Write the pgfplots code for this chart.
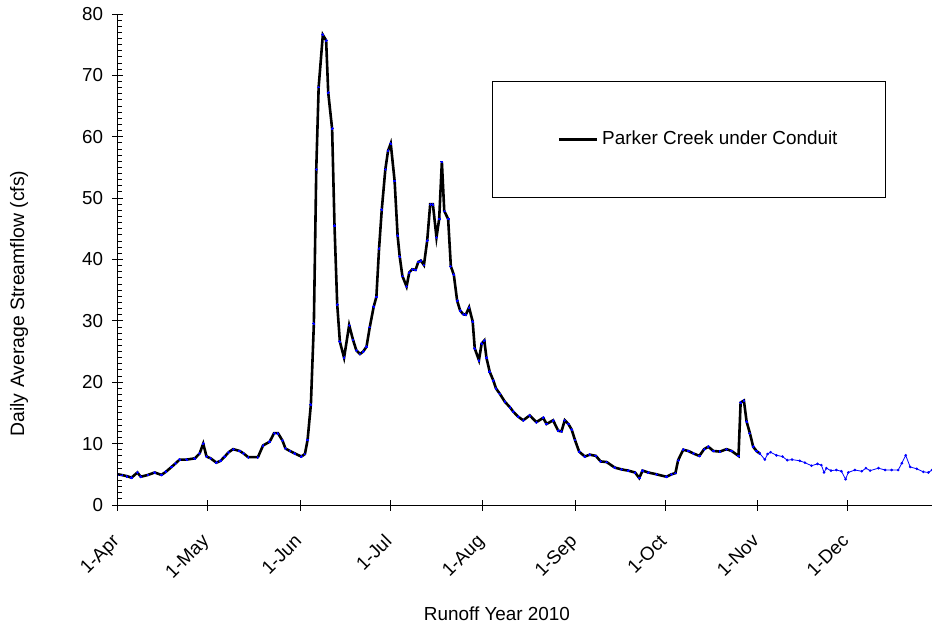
\documentclass[border=0pt]{standalone}
\usepackage{pgfplots}
\pgfplotsset{compat=1.18}
\usepackage{fontspec}
\setmainfont{Liberation Sans}
\begin{document}
\fontsize{18.8}{22.6}\selectfont
\begin{tikzpicture}
\begin{axis}[
  scale only axis, width=814pt, height=491pt,
  xmin=0, xmax=272.2, ymin=0, ymax=80,
  axis line style={draw=none},
  after end axis/.code={
    \draw[black, line width=1pt] (rel axis cs:0,1) -- (rel axis cs:0,0) -- (rel axis cs:1,0);
    \foreach \v in {1,...,79}{\draw[black, line width=1pt] (axis cs:0,\v) -- ++(4.5pt,0pt);}
  },
  tickpos=left,
  xtick={0,30,61,91,122,153,183,214,244},
  xticklabels={1-Apr,1-May,1-Jun,1-Jul,1-Aug,1-Sep,1-Oct,1-Nov,1-Dec},
  xticklabel style={xshift=-7pt, yshift=-21pt, rotate=45, anchor=north east, inner sep=1pt},
  ytick={0,10,...,80},
  yticklabel style={xshift=-3pt},
  tick align=center, major tick length=11pt,
  tick style={black, line width=1pt},
  /pgf/number format/assume math mode=true,
  ticklabel style={font=\fontsize{18.8}{22.6}\selectfont},
  label style={font=\fontsize{18.9}{22.6}\selectfont},
  xlabel={Runoff Year 2010},
  xlabel style={at={(axis description cs:0.4656,-0.222)}, anchor=center},
  ylabel={Daily Average Streamflow (cfs)},
  ylabel style={at={(axis description cs:-0.1216,0.4104)}, anchor=center, rotate=0, font=\fontsize{19.4}{23}\selectfont},
  legend style={draw=black, line width=0.8pt, at={(rel axis cs:0.7015,0.7444)}, anchor=center,
    inner xsep=48pt, inner ysep=50pt, nodes={inner sep=0pt}, column sep=4pt,
    font=\fontsize{18.9}{22.6}\selectfont},
  legend image code/.code={\fill[white] (-17pt,-0.1pt) rectangle (0pt,0.1pt); \draw[black, line width=2.8pt] (0pt,0pt) -- (38pt,0pt);},
]
\addplot[blue, line width=0.8pt, mark=*, mark size=0.9pt, mark options={fill=blue, draw=blue}, forget plot] coordinates {
(214.6,8.4) (216.3,7.4) (217.2,8.3) (218.2,8.6) (220.2,8.1) (222.2,7.9) (223.8,7.3)
(225.4,7.4) (228.0,7.2) (229.7,6.9) (231.9,6.4) (233.9,6.7) (235.2,6.5) (236.1,5.3)
(236.9,6.0) (238.4,5.6) (240.2,5.7) (241.9,5.5) (243.3,4.2) (244.2,5.3) (246.4,5.7)
(248.7,5.5) (250.1,6.0) (251.5,5.6) (254.3,6.0) (256.5,5.7) (258.7,5.7) (260.9,5.7)
(262.1,6.8) (263.4,8.1) (264.9,6.2) (267.1,5.9) (269.3,5.4) (271,5.3) (272.2,5.7)
};
\addplot[black, line width=2.6pt, mark=*, mark size=0.9pt, mark options={fill=blue, draw=blue, line width=0pt}] coordinates {
(0,5.0) (1.1,4.9) (3,4.7) (4.5,4.45) (6.5,5.3) (7.6,4.6) (10,4.9) (12.3,5.3) (14.5,4.9)
(16,5.4) (17.9,6.2) (19.3,6.8) (20.6,7.4) (23,7.4) (25.7,7.6) (27.3,8.4) (28.5,10.0)
(29.6,7.9) (31,7.6) (32.9,6.9) (34.3,7.2) (35.7,7.9) (37,8.6) (38.5,9.1) (40.7,8.8)
(42,8.4) (43.5,7.8) (46.8,7.8) (48.5,9.7) (50.7,10.3) (52.2,11.7) (53.5,11.7) (55,10.5)
(56,9.2) (57.5,8.8) (59.1,8.4) (61.3,7.9) (62.5,8.3) (63.4,10.6) (64.5,16.4) (65.5,29.6)
(66.3,54.7) (67.1,68.1) (68.5,76.6) (69.6,75.7) (70.3,67.2) (71.6,61.3) (72.4,45.5)
(73.3,32.7) (74.2,26.6) (75.6,24.0) (77.3,29.3) (78.6,26.9) (79.7,25.2) (80.9,24.6)
(82,25.0) (83.1,25.8) (84.2,29.0) (85.5,32.3) (86.4,33.9) (87.3,41.8) (88.2,48.1)
(89.4,54.7) (90.3,57.7) (91.2,58.9) (92.5,52.8) (93.5,43.9) (94.2,40.5) (95.1,37.3)
(96.5,35.6) (97.4,37.9) (98.4,38.4) (99.5,38.3) (100.4,39.6) (101.3,39.8) (102.3,39.1)
(103.4,43.1) (104.4,49.0) (105.3,49.0) (106.5,43.6) (107.4,46.6) (108.3,55.9) (109.1,47.9)
(110.4,46.6) (111.3,38.9) (112.3,37.5) (113.4,33.3) (114.4,31.7) (115.4,31.1) (116.3,31.0)
(117.4,32.2) (118.6,29.9) (119.3,25.5) (120.7,23.6) (121.6,26.3) (122.5,26.8) (123.2,24.0)
(124.3,21.7) (125.5,20.3) (126.4,19.0) (127.7,18.1) (129.4,16.8) (131.1,15.9) (132.2,15.2)
(133.8,14.4) (135.5,13.8) (137.7,14.6) (139.9,13.5) (142.2,14.2) (143.3,13.2) (145.5,13.8)
(147.2,12.1) (148.3,12.0) (149.4,13.8) (150.6,13.2) (151.7,12.3) (152.8,10.6) (154.2,8.7)
(156.1,7.9) (157.8,8.2) (159.8,8.0) (161.4,7.1) (163.4,7.0) (166.1,6.1) (168.4,5.8)
(170.6,5.6) (172.9,5.3) (174.3,4.4) (175.4,5.6) (177.3,5.3) (180.1,5.0) (183.4,4.6)
(185.1,5.0) (186.4,5.2) (187.3,7.3) (189.0,9.0) (190.7,8.8) (192.4,8.4) (194.4,8.0)
(196.0,9.1) (197.4,9.5) (199.1,8.8) (201.3,8.7) (203.5,9.1) (205.2,8.8) (207.5,8.0)
(208.2,16.7) (209.3,17.0) (210.2,13.6) (211.3,11.7) (212.4,9.5) (213.5,8.8) (214.6,8.4)
};
\addlegendentry{Parker Creek under Conduit}
\end{axis}
\pgfresetboundingbox
\path (-118pt,-124pt) rectangle (814pt,505pt);
\end{tikzpicture}
\end{document}
